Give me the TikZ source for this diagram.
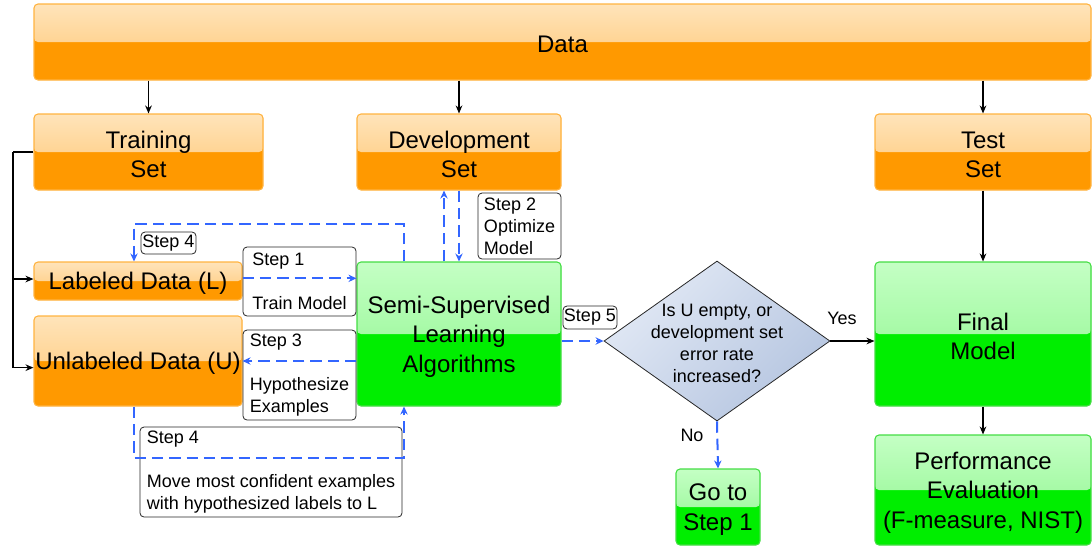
\documentclass[tikz,border=0pt]{standalone}
\usepackage{fontspec}
\setmainfont{Liberation Sans}
\usetikzlibrary{arrows.meta,shapes.geometric,calc}
\definecolor{otop}{HTML}{FFE4BA}
\definecolor{omid}{HTML}{FFC46E}
\definecolor{obot}{HTML}{FF9900}
\definecolor{oborder}{HTML}{FFB340}
\definecolor{gtop}{HTML}{C4FFC4}
\definecolor{gmid}{HTML}{88F588}
\definecolor{gbot}{HTML}{00EE00}
\definecolor{gborder}{HTML}{44DD44}
\definecolor{dtop}{HTML}{E2E9F5}
\definecolor{dbot}{HTML}{B5C5E0}
\definecolor{dashblue}{HTML}{3366FF}
\tikzset{
  base/.style={rectangle, rounded corners=3pt, inner sep=0pt, line width=0.8pt},
  bigtext/.style={inner sep=0pt, align=center, font=\fontsize{18}{22}\selectfont},
  obox/.style={base, draw=oborder, fill=obot,
    path picture={\shade[top color=otop, bottom color=omid]
      (path picture bounding box.north west) rectangle (path picture bounding box.east);}},
  gbox/.style={base, draw=gborder, fill=gbot,
    path picture={\shade[top color=gtop, bottom color=gmid]
      (path picture bounding box.north west) rectangle (path picture bounding box.east);}},
  lbox/.style={rectangle, rounded corners=3pt, draw=black!85, fill=white, line width=0.6pt,
    inner sep=0pt, align=left, font=\fontsize{13.5}{16.5}\selectfont},
  small/.style={font=\fontsize{13.5}{16.5}\selectfont, inner sep=0pt, align=center},
  arr/.style={line width=0.9pt, -{Stealth[length=6pt,width=5pt]}},
  darr/.style={draw=dashblue, line width=1.5pt, dash pattern=on 8.5pt off 4.5pt,
    -{Stealth[length=6pt,width=5.5pt]}}
}
% glossy box with its text set slightly low, as in the reference
\newcommand\gloss[7]{\node[#1, minimum width={(#4-#2)*0.75pt}, minimum height={(#5-#3)*0.75pt}] (#6) at ({(#2+#4)/2},{(#3+#5)/2}) {};
  \node[bigtext] (#6-text) at ([yshift=-2pt]#6.center) {#7};}
\newcommand\boxat[7]{\node[#1, minimum width={(#4-#2)*0.75pt}, minimum height={(#5-#3)*0.75pt}] (#6) at ({(#2+#4)/2},{(#3+#5)/2}) {#7};}
\begin{document}
\begin{tikzpicture}[x=0.75pt,y=-0.75pt]
\useasboundingbox (0,0) rectangle (1092,547);
% big boxes
\gloss{obox}{34}{4}{1091}{80}{data}{Data}
\gloss{obox}{34}{114}{263}{190}{train}{Training\\Set}
\gloss{obox}{357}{114}{561}{190}{dev}{Development\\Set}
\gloss{obox}{875}{114}{1091}{190}{test}{Test\\Set}
\gloss{obox}{34}{262}{242}{300}{lab}{Labeled Data (L)}
\gloss{obox}{34}{316}{242}{406}{unl}{Unlabeled Data (U)}
\gloss{gbox}{357}{262}{561}{406}{semi}{Semi-Supervised\\Learning\\Algorithms}
\gloss{gbox}{875}{262}{1091}{406}{final}{Final\\Model}
\gloss{gbox}{875}{435}{1091}{545}{perf}{Performance\\Evaluation\\(F-measure, NIST)}
\gloss{gbox}{676}{469}{760}{545}{goto}{Go to\\Step 1}
% decision
\node[diamond, draw=black!85, line width=0.6pt, inner sep=0pt, aspect=1.41,
  minimum width={226*0.75pt}, minimum height={160*0.75pt},
  top color=dtop, bottom color=dbot, shading angle=45] (dec) at (717,341) {};
\node[small] (dectxt) at (717,343) {Is U empty, or\\development set\\error rate\\increased?};
% label boxes
\boxat{lbox}{243}{247}{356}{316}{s1}{Step 1\\[16.5pt]Train Model}
\boxat{lbox}{243}{330}{356}{420}{s3}{Step 3\\[16.5pt]Hypothesize\\Examples}
\boxat{lbox}{478}{193}{561}{259}{s2}{Step 2\\Optimize\\Model}
\boxat{lbox}{141}{232}{196}{254}{s4a}{Step 4}
\boxat{lbox}{563}{306}{617}{329}{s5}{Step 5}
\boxat{lbox}{140}{427}{402}{517}{s4b}{Step 4\\[16.5pt]Move most confident examples\\with hypothesized labels to L}
\node[small] (yes) at (842,318) {Yes};
\node[small] (no) at (692,435) {No};
% black connectors
\draw[arr] (data.south -| train.north) -- (train.north);
\draw[arr] (data.south -| dev.north) -- (dev.north);
\draw[arr] (data.south -| test.north) -- (test.north);
\coordinate (tc) at (13,152);
\draw[line width=0.9pt] (train.west) -- (tc);
\draw[arr] (tc) |- ([yshift=-5pt]unl.west);
\draw[arr] (tc) |- ([yshift=1.5pt]lab.west);
\draw[arr] (test.south) -- (final.north);
\draw[arr] (final.south) -- (perf.north);
\draw[arr] (dec.east) -- (dec.east -| final.west);
% blue dashed connectors
\draw[darr] ([yshift=2pt]lab.east) -- ([yshift=2pt]lab.east -| semi.west);
\draw[darr] (unl.east -| semi.west) -- (unl.east);
\draw[darr] ([xshift=-11.25pt]semi.north) -- ([xshift=-11.25pt]dev.south);
\draw[darr] (dev.south) -- (semi.north);
\coordinate (t4a) at (404,224);
\coordinate (t4b) at (134,224);
\draw[darr] (semi.north -| t4a) -- (t4a) -- (t4b) -- (t4b |- lab.north);
\coordinate (b4a) at (134,458);
\coordinate (b4b) at (404,458);
\draw[darr] (unl.south -| b4a) -- (b4a) -- (b4b) -- (b4b |- semi.south);
\draw[darr] (semi.east |- dec.west) -- (dec.west);
\draw[darr] (dec.south) -- (goto.north);
\end{tikzpicture}
\end{document}
